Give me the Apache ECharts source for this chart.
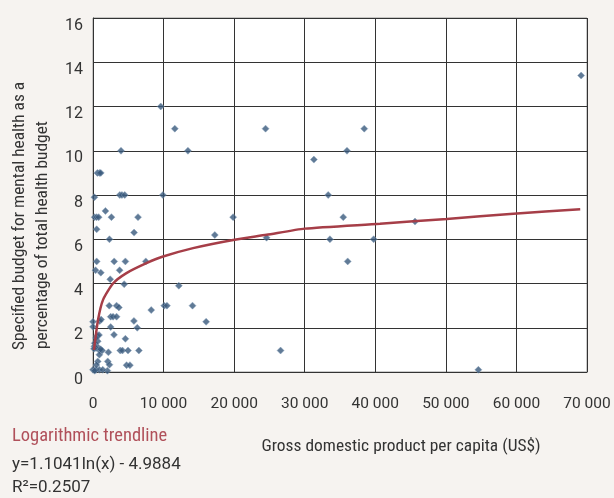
<!DOCTYPE html>
<html>
<head>
<meta charset="utf-8">
<script src="https://cdn.jsdelivr.net/npm/echarts@6/dist/echarts.min.js"></script>
<style>
html,body{margin:0;padding:0;background:#f6f3f0;}
#chart{width:614px;height:498px;}
</style>
</head>
<body>
<div id="chart"></div>
<script>
// GDP per capita (US$) for each country point
var gdp = [200, 620, 900, 1100, 3970, 3800, 4100, 4500, 9600, 9900, 11590, 13450, 24450,
  1760, 240, 520, 810, 2610, 6380, 520, 5820, 2330,
  520, 3000, 4590, 7480, 360, 1110, 3770, 2440, 4420,
  2300, 3340, 3670, 8250, 10100, 10480, 14100, 12160,
  0, 0, 950, 1150, 2510, 2840, 3340, 2510, 5800, 6270, 2980, 4590, 16030,
  26580, 620, 850, 620, 240, 950, 1300, 2180, 3860, 4170, 4960, 6500,
  4760, 5230, 2090, 2330, 2040,
  200, 430, 670, 430, 670, 900, 0, 430, 900, 1380, 240, 480, 140, 1090,
  17260, 24590, 19860, 38440, 35990, 31300, 33330, 35460, 45630, 33570, 39770, 36090,
  54610, 69170];
// Specified mental health budget (% of total health budget)
var budget = [7.9, 9, 9, 9, 10, 8, 8, 8, 12, 8, 11, 10, 11,
  7.28, 7.0, 7.0, 7.0, 7.0, 7.0, 6.45, 6.3, 6.0,
  5.0, 5.0, 5.0, 5.0, 4.6, 4.49, 4.6, 4.19, 3.97,
  3.0, 3.0, 2.92, 2.8, 3.0, 3.0, 3.0, 3.9,
  2.27, 2.04, 2.3, 2.37, 2.5, 2.5, 2.5, 2.03, 2.31, 2.0, 1.68, 1.5, 2.27,
  0.97, 1.64, 1.67, 1.14, 1.3, 0.97, 0.97, 0.89, 0.97, 0.97, 0.97, 0.97,
  0.31, 0.31, 0.48, 0.33, 0.06,
  1.16, 1.08, 1.39, 1.54, 0.48, 0.78, 0.1, 0.1, 0.1, 0.1, 0.06, 0.32, 1.05, 1.03,
  6.19, 6.07, 7.0, 11, 10, 9.6, 8.0, 7.0, 6.8, 6.0, 6.0, 5.0,
  0.1, 13.4];
// Logarithmic trendline, points
var trendX = [140, 710, 1420, 2840, 4740, 7570, 9930, 14180, 19860, 24600, 30000, 40670, 50130, 59570, 69040];
var trendY = [1.0, 2.35, 3.26, 4.0, 4.47, 4.92, 5.22, 5.6, 5.97, 6.2, 6.48, 6.7, 6.92, 7.15, 7.36];

var xTickLabels = ['0', '10 000', '20 000', '30 000', '40 000', '50 000', '60 000', '70 000'];
var yTickLabels = ['0', '2', '4', '6', '8', '10', '12', '14', '16'];
var yTitle1 = 'Specified budget for mental health as a';
var yTitle2 = 'percentage of total health budget';
var xTitle = 'Gross domestic product per capita (US$)';
var trendTitle = 'Logarithmic trendline';
var trendEq = 'y=1.1041ln(x) - 4.9884';
var trendR2 = 'R\u00b2=0.2507';

var FONT = "'Liberation Sans Narrow', 'Roboto Condensed', 'DejaVu Sans Condensed', sans-serif";
var NUMFONT = "Roboto, 'Liberation Sans', sans-serif";

var scatterData = gdp.map(function (g, i) { return [g, budget[i]]; });
var trendData = trendX.map(function (x, i) { return [x, trendY[i]]; });

var chart = echarts.init(document.getElementById('chart'), null, {renderer: 'canvas'});
chart.setOption({
  backgroundColor: '#f6f3f0',
  animation: false,
  grid: {left: 93, right: 27, top: 18, bottom: 126, show: true, backgroundColor: '#ffffff', borderColor: '#999', borderWidth: 1},
  xAxis: {
    type: 'value', min: 0, max: 70000, interval: 10000,
    axisLine: {show: true, lineStyle: {color: '#333', width: 1}},
    axisTick: {show: false},
    splitLine: {show: true, lineStyle: {color: '#333', width: 1}},
    axisLabel: {
      margin: 24, color: '#333', fontSize: 15.5, fontFamily: NUMFONT,
      formatter: function (v) { return xTickLabels[Math.round(v / 10000)]; }
    }
  },
  yAxis: {
    type: 'value', min: 0, max: 16, interval: 2,
    axisLine: {show: true, lineStyle: {color: '#333', width: 1}},
    axisTick: {show: false},
    splitLine: {show: true, lineStyle: {color: '#333', width: 1}},
    axisLabel: {
      margin: 10, color: '#333', fontSize: 16, fontFamily: NUMFONT,
      verticalAlign: 'top', lineHeight: 15,
      formatter: function (v) { return yTickLabels[Math.round(v / 2)]; }
    }
  },
  series: [
    {
      type: 'scatter', data: scatterData, symbol: 'diamond', symbolSize: 7,
      itemStyle: {color: '#38597c', borderColor: '#8aa2bb', borderWidth: 0.6},
      z: 3
    },
    {
      type: 'line', data: trendData, smooth: 0.2, showSymbol: false, symbol: 'none',
      lineStyle: {color: '#a63e48', width: 2.5}, z: 4
    }
  ],
  graphic: [
    {type: 'text', x: 20, y: 350, rotation: Math.PI / 2,
      style: {text: yTitle1, fontSize: 17.4, fontFamily: FONT, fill: '#333', align: 'left', verticalAlign: 'middle'}},
    {type: 'text', x: 43, y: 349, rotation: Math.PI / 2,
      style: {text: yTitle2, fontSize: 17.4, fontFamily: FONT, fill: '#333', align: 'left', verticalAlign: 'middle'}},
    {type: 'text', x: 401, y: 447,
      style: {text: xTitle, fontSize: 17.4, fontFamily: FONT, fill: '#333', align: 'center', verticalAlign: 'middle'}},
    {type: 'text', x: 12, y: 436,
      style: {text: trendTitle, fontSize: 18.5, fontFamily: FONT, fill: '#b0505a', align: 'left', verticalAlign: 'middle'}},
    {type: 'text', x: 12, y: 465,
      style: {text: trendEq, fontSize: 17, fontFamily: NUMFONT, fill: '#333', align: 'left', verticalAlign: 'middle'}},
    {type: 'text', x: 12, y: 488,
      style: {text: trendR2, fontSize: 17, fontFamily: NUMFONT, fill: '#333', align: 'left', verticalAlign: 'middle'}}
  ]
});
</script>
</body>
</html>
